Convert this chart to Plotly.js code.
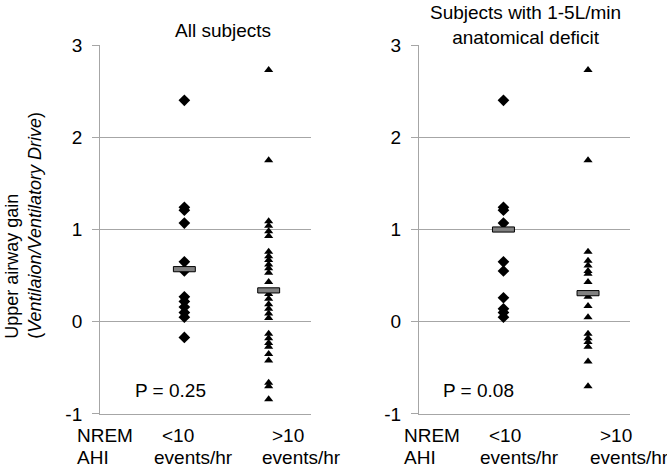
<!DOCTYPE html>
<html>
<head>
<meta charset="utf-8">
<script src="https://cdn.plot.ly/plotly-3.0.1.min.js"></script>
<style>
  body { margin: 0; background: #fff; }
  #chart { width: 667px; height: 467px; }
</style>
</head>
<body>
<div id="chart"></div>
<script>
// upper airway gain
const allLow = [2.40, 1.24, 1.21, 1.07, 0.65, 0.55, 0.27, 0.22, 0.16, 0.10, 0.05, -0.17];
const allHigh = [2.73, 1.75, 1.09, 1.04, 0.98, 0.93, 0.76, 0.71, 0.67, 0.62, 0.58, 0.53,
  0.43, 0.30, 0.25, 0.19, 0.14, 0.09, 0.04, -0.13, -0.18, -0.23, -0.27, -0.35, -0.42,
  -0.66, -0.70, -0.84];
const defLow = [2.40, 1.24, 1.21, 1.07, 0.65, 0.55, 0.26, 0.14, 0.10, 0.05];
const defHigh = [2.73, 1.75, 0.76, 0.66, 0.61, 0.55, 0.52, 0.43, 0.27, 0.17, 0.05,
  -0.13, -0.18, -0.22, -0.27, -0.43, -0.70];
const allMedians = [0.57, 0.34];
const defMedians = [1.00, 0.31];

const yTicks = [-1, 0, 1, 2, 3];
const yTickText = ["-1", "0", "1", "2", "3"];
const panelTitles = ["All subjects", "Subjects with 1-5L/min<br>anatomical deficit"];
const pValues = ["P = 0.25", "P = 0.08"];
const groupTop = ["<10", ">10"];
const groupBottom = ["events/hr", "events/hr"];

const GREY = "#a6a6a6";
const FONT = "Liberation Sans, Arial, sans-serif";

function column(vals, pos, symbol, size, xa, ya) {
  return {
    x: vals.map(() => pos),
    y: vals,
    xaxis: xa,
    yaxis: ya,
    mode: "markers",
    type: "scatter",
    marker: { symbol: symbol, size: size, color: "#000" },
    hoverinfo: "y",
  };
}

// median marker as a small filled rectangle around each median
function medianBox(m, pos, xa, ya) {
  const hw = 0.13, hh = 0.028;
  return {
    x: [pos - hw, pos + hw, pos + hw, pos - hw, pos - hw],
    y: [m - hh, m - hh, m + hh, m + hh, m - hh],
    xaxis: xa,
    yaxis: ya,
    mode: "lines",
    fill: "toself",
    fillcolor: "#808080",
    line: { color: "#000", width: 1 },
    hoverinfo: "skip",
  };
}

const traces = [
  column(allLow, 1, "diamond", 9, "x", "y"),
  column(allHigh, 2, "triangle-up", 8, "x", "y"),
  column(defLow, 1, "diamond", 9, "x2", "y2"),
  column(defHigh, 2, "triangle-up", 8, "x2", "y2"),
  medianBox(allMedians[0], 1, "x", "y"),
  medianBox(allMedians[1], 2, "x", "y"),
  medianBox(defMedians[0], 1, "x2", "y2"),
  medianBox(defMedians[1], 2, "x2", "y2"),
];

function xAxis(domain, anchor) {
  return {
    domain: domain,
    anchor: anchor,
    range: [0, 2.5],
    showgrid: false,
    zeroline: false,
    showticklabels: false,
    showline: true,
    linecolor: GREY,
    linewidth: 1,
    fixedrange: true,
  };
}

function yAxis(anchor) {
  return {
    domain: [0.1135, 0.9036],
    anchor: anchor,
    range: [-1, 3],
    tickmode: "array",
    tickvals: yTicks,
    ticktext: yTickText,
    showgrid: true,
    gridcolor: GREY,
    gridwidth: 1,
    zeroline: false,
    showline: true,
    linecolor: GREY,
    ticks: "outside",
    ticklen: 7,
    tickcolor: GREY,
    ticklabelstandoff: 6,
    tickfont: { size: 19 },
    fixedrange: true,
  };
}

const txt = (text, xref, x, y, anchor) => ({
  text: text, xref: xref, yref: "paper", x: x, y: y,
  xanchor: anchor || "left", yanchor: "middle", showarrow: false,
  font: { size: 19 },
});

const annotations = [
  txt(panelTitles[0], "x", 1.46, 0.934, "center"),
  txt(panelTitles[1], "x2", 1.26, 0.9475, "center"),
  txt(pValues[0], "x", 0.39, 0.163),
  txt(pValues[1], "x2", 0.26, 0.163),
  txt("NREM", "paper", 0.1124, 0.0664),
  txt("AHI", "paper", 0.1124, 0.0193),
  txt(groupTop[0], "x", 0.71, 0.0664),
  txt(groupBottom[0], "x", 0.62, 0.0193),
  txt(groupTop[1], "x", 2.01, 0.0664),
  txt(groupBottom[1], "x", 1.90, 0.0193),
  txt("NREM", "paper", 0.6027, 0.0664),
  txt("AHI", "paper", 0.6027, 0.0193),
  txt(groupTop[0], "x2", 0.81, 0.0664),
  txt(groupBottom[0], "x2", 0.70, 0.0193),
  txt(groupTop[1], "x2", 2.12, 0.0664),
  txt(groupBottom[1], "x2", 2.00, 0.0193),
  {
    text: "Upper airway gain<br>(<i>Ventilaion/Ventilatory Drive</i>)",
    xref: "paper", yref: "paper", x: 0.034, y: 0.518,
    xanchor: "center", yanchor: "middle",
    textangle: -90, align: "left", showarrow: false,
    font: { size: 18 },
  },
];

const layout = {
  width: 667,
  height: 467,
  margin: { l: 0, r: 0, t: 0, b: 0 },
  paper_bgcolor: "#fff",
  plot_bgcolor: "#fff",
  showlegend: false,
  font: { family: FONT, color: "#000", size: 19 },
  xaxis: xAxis([0.150, 0.466], "y"),
  yaxis: yAxis("x"),
  xaxis2: xAxis([0.628, 0.945], "y2"),
  yaxis2: yAxis("x2"),
  annotations: annotations,
};

Plotly.newPlot("chart", traces, layout, { displayModeBar: false, staticPlot: true });
</script>
</body>
</html>
